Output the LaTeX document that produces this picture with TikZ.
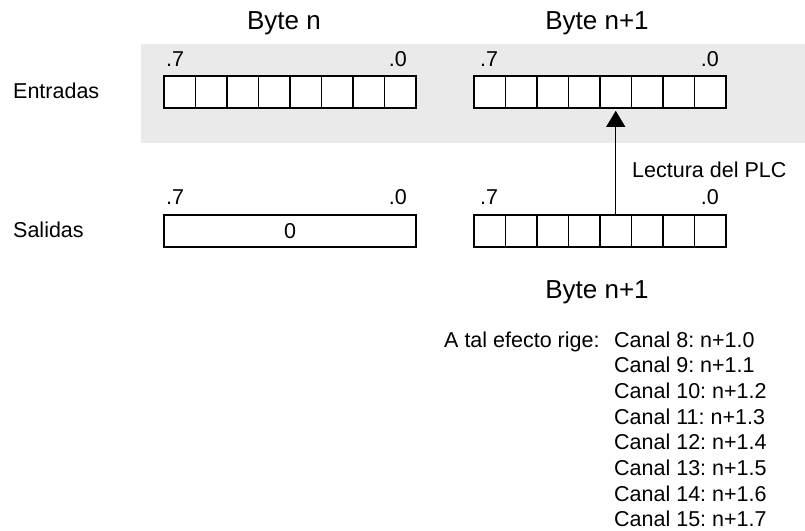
\documentclass[tikz,border=0pt]{standalone}
\usepackage{fontspec}
\setmainfont{Liberation Sans}
\usepackage{tikz}
\usetikzlibrary{arrows.meta, positioning}

\definecolor{bandgray}{RGB}{234,234,234}
\frenchspacing

\begin{document}
\begin{tikzpicture}[
  x=1pt, y=-1pt,
  font=\fontsize{21.5}{25.7}\selectfont,
  bitcell/.style={draw, line width=1.6pt, inner sep=0pt, minimum width=31.5pt, minimum height=32pt},
  bytebox/.style={draw, line width=1.6pt, fill=white, inner sep=0pt, minimum width=252pt, minimum height=32pt},
  title/.style={font=\fontsize{26}{30}\selectfont, anchor=base},
  txt/.style={inner sep=0pt, anchor=base west},
  bitnum/.style={inner sep=0pt},
  arrow/.style={-{Triangle[width=19pt, length=16pt]}, line width=1pt, shorten >=2pt}
]
\useasboundingbox (0,0) rectangle (805,530);
\fill[bandgray] (141,44) rectangle (805,143);
% white under the bit rows
\fill[white] (164,76) rectangle (416,108);
\fill[white] (474,76) rectangle (726,108);
\fill[white] (474,215) rectangle (726,247);

% titles
\node[title] (titleA) at (284,29) {Byte n};
\node[title] (titleB) at (597,29) {Byte n+1};

% inputs
\node[txt] (inlabel) at (13,98) {Entradas};
\foreach \i in {0,...,7} {
  \node[bitcell] (inA\i) at (179.75+31.5*\i,92) {};
  \node[bitcell] (inB\i) at (489.75+31.5*\i,92) {};
}
\node[bitnum, anchor=base west] (inA7) at (166,66) {.7};
\node[bitnum, anchor=base east] (inA0) at (407,66) {.0};
\node[bitnum, anchor=base west] (inB7) at (480,66) {.7};
\node[bitnum, anchor=base east] (inB0) at (719,66) {.0};

% outputs
\node[txt] (outlabel) at (13,237) {Salidas};
\node[bytebox] (outA) at (290,231) {0};
\foreach \i in {0,...,7}
  \node[bitcell] (outB\i) at (489.75+31.5*\i,231) {};
\node[bitnum, anchor=base west] (outA7) at (166,204) {.7};
\node[bitnum, anchor=base east] (outA0) at (407,204) {.0};
\node[bitnum, anchor=base west] (outB7) at (480,204) {.7};
\node[bitnum, anchor=base east] (outB0) at (719,204) {.0};

% PLC read
\draw[arrow] (outB4.north) -- (inB4.south);
\node[txt] (read) at (632,177) {Lectura del PLC};

\node[title] (titleC) at (597,298) {Byte n+1};

% channel list
\node[txt] (rule) at (444,347) {A tal efecto rige:};
\foreach \k in {0,...,7} {
  \pgfmathtruncatemacro{\ch}{8+\k}
  \node[txt] (ch\k) at (614,347+25.7*\k) {Canal \ch: n+1.\k};
}
\end{tikzpicture}
\end{document}
